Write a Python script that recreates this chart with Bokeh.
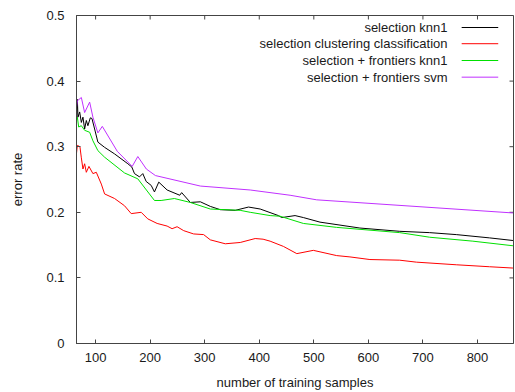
from bokeh.plotting import figure
from bokeh.models import Range1d, Label, FixedTicker
from bokeh.embed import file_html
from bokeh.resources import INLINE

# ---- data ----
series_names = [
    "selection knn1",
    "selection clustering classification",
    "selection + frontiers knn1",
    "selection + frontiers svm",
]
series_colors = ["#000000", "#ff0000", "#00e000", "#c030ff"]

knn1_x = [65, 66.6, 67.7, 70.8, 73.9, 76.8, 79.9, 83, 85.9, 90.3, 93.3, 98.2, 104.2, 116.5,
          134.8, 159.1, 166.4, 171.3, 180.5, 186.5, 192.7, 201.9, 207.9, 215.8, 231.1,
          254.2, 257.8, 273.7, 292, 310.3, 328.5, 356, 380.3, 401.7, 435.1, 441.3, 465.6,
          480.8, 511.3, 584.4, 657.5, 712.3, 761.1, 822, 865]
knn1_y = [0.340, 0.372, 0.345, 0.353, 0.337, 0.345, 0.327, 0.340, 0.332, 0.344, 0.343, 0.327,
          0.307, 0.299, 0.289, 0.274, 0.269, 0.259, 0.254, 0.259, 0.247, 0.241, 0.231, 0.246,
          0.234, 0.226, 0.230, 0.215, 0.216, 0.209, 0.204, 0.203, 0.208, 0.205, 0.195, 0.192,
          0.195, 0.192, 0.185, 0.176, 0.171, 0.169, 0.166, 0.161, 0.157]

clust_x = [65, 66.6, 71.3, 73.9, 76.8, 79.9, 83, 87.8, 95.1, 101.3, 110.5, 116.5, 134.8,
           153, 165.3, 183.6, 195.6, 212.8, 231.1, 240.2, 249.4, 261.5, 279.7, 298, 310.3,
           337.7, 365.1, 392.5, 407, 419.9, 444.3, 468.8, 499.1, 541.9, 566.2, 602.8,
           657.5, 688, 761.1, 822, 865]
clust_y = [0.290, 0.302, 0.300, 0.283, 0.266, 0.274, 0.261, 0.270, 0.259, 0.261, 0.243,
           0.228, 0.221, 0.210, 0.198, 0.200, 0.190, 0.183, 0.179, 0.175, 0.178, 0.172,
           0.167, 0.166, 0.158, 0.152, 0.154, 0.160, 0.159, 0.156, 0.148, 0.137, 0.142,
           0.134, 0.132, 0.128, 0.127, 0.124, 0.120, 0.117, 0.115]

front_knn_x = [65, 66.6, 69, 73.9, 79.9, 89.1, 95.1, 104.2, 116.5, 153, 177.4, 207.9, 220.1,
               244.4, 273.7, 310.3, 365, 383.4, 419.9, 438.2, 480.8, 541.9, 657.5, 712.3,
               791.5, 865]
front_knn_y = [0.340, 0.345, 0.330, 0.332, 0.325, 0.322, 0.309, 0.294, 0.284, 0.260, 0.251,
               0.218, 0.218, 0.221, 0.215, 0.205, 0.203, 0.200, 0.195, 0.194, 0.183, 0.177,
               0.169, 0.162, 0.156, 0.149]

front_svm_x = [65, 66.6, 73.9, 79.9, 89.1, 95.1, 104.2, 112.3, 139.7, 167.1, 177.4, 193,
               209.7, 292, 383.4, 456.5, 505.3, 865]
front_svm_y = [0.360, 0.370, 0.375, 0.352, 0.368, 0.345, 0.321, 0.331, 0.293, 0.270, 0.285,
               0.266, 0.256, 0.240, 0.234, 0.226, 0.219, 0.199]

x_ticks = [100, 200, 300, 400, 500, 600, 700, 800]
y_ticks = [0, 0.1, 0.2, 0.3, 0.4, 0.5]
x_title = "number of training samples"
y_title = "error rate"

FONT = "Liberation Sans"
X0, X1, Y0, Y1 = 65, 866, 0, 0.5

p = figure(width=515, height=392, x_range=Range1d(X0, X1), y_range=Range1d(Y0, Y1),
           output_backend="svg", toolbar_location=None,
           min_border_left=76, min_border_right=2, min_border_top=15, min_border_bottom=49)
p.background_fill_color = "white"
p.border_fill_color = "white"
p.outline_line_color = "#444444"
p.outline_line_width = 1
p.xgrid.visible = False
p.ygrid.visible = False

for ax, ticks in ((p.xaxis[0], x_ticks), (p.yaxis[0], y_ticks)):
    ax.ticker = FixedTicker(ticks=ticks)
    ax.major_tick_in = 4
    ax.major_tick_out = 0
    ax.minor_tick_line_color = None
    ax.axis_line_color = "#444444"
    ax.major_tick_line_color = "#444444"
    ax.major_label_text_font = FONT
    ax.major_label_text_font_size = "13px"
    ax.major_label_text_color = "#1a1a1a"
    ax.axis_label_text_font = FONT
    ax.axis_label_text_font_style = "normal"
    ax.axis_label_text_font_size = "13px"
    ax.axis_label_text_color = "#1a1a1a"

p.xaxis[0].axis_label = x_title
p.xaxis[0].major_label_standoff = 9
p.xaxis[0].axis_label_standoff = 10
p.yaxis[0].axis_label = y_title
p.yaxis[0].major_label_standoff = 12
p.yaxis[0].axis_label_standoff = 18
p.yaxis[0].major_label_overrides = {0: "0"}

# mirrored inward ticks on the top and right frame edges (gnuplot style)
tick_dy = (Y1 - Y0) * 4 / 328.0
tick_dx = (X1 - X0) * 4 / 437.0
p.segment(x0=x_ticks, y0=[Y1] * len(x_ticks), x1=x_ticks, y1=[Y1 - tick_dy] * len(x_ticks),
          line_color="#444444", line_width=1)
p.segment(x0=[X1] * len(y_ticks), y0=y_ticks, x1=[X1 - tick_dx] * len(y_ticks), y1=y_ticks,
          line_color="#444444", line_width=1)

all_x = [knn1_x, clust_x, front_knn_x, front_svm_x]
all_y = [knn1_y, clust_y, front_knn_y, front_svm_y]
for xs, ys, c in zip(all_x, all_y, series_colors):
    p.line(xs, ys, line_color=c, line_width=1)

# legend (gnuplot style: text right-aligned, sample line to its right)
leg_text_x = 745
leg_line_x0 = 771
leg_line_x1 = 838
leg_rows_y = [0.4817, 0.4570, 0.4314, 0.4060]
for name, c, yy in zip(series_names, series_colors, leg_rows_y):
    p.add_layout(Label(x=leg_text_x, y=yy, text=name, text_align="right",
                       text_baseline="middle", text_font=FONT, text_font_size="13px",
                       text_color="#1a1a1a"))
    p.line([leg_line_x0, leg_line_x1], [yy, yy], line_color=c, line_width=1)

open("out.html", "w").write(file_html(p, INLINE))
